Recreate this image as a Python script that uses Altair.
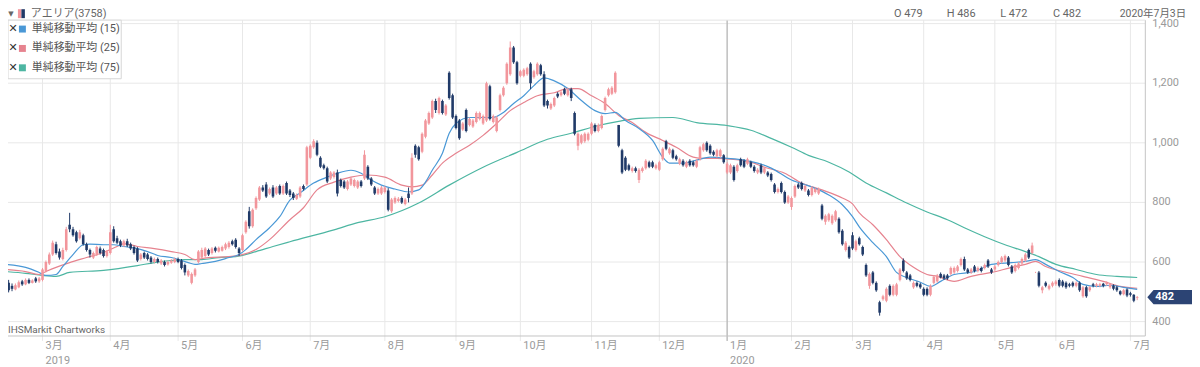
import altair as alt
import pandas as pd

# ---------------- data (daily candles, trading-day index 0..334) ----------------
opens = [
    545,530,520,508,515,535,525,540,530,545,
    535,540,570,595,625,660,635,610,640,725,
    710,700,680,690,660,640,615,625,645,640,
    620,630,710,680,670,655,670,660,650,645,
    610,630,625,615,600,610,595,600,592,598,
    600,610,605,590,555,530,555,600,615,620,
    640,630,648,635,638,645,650,670,675,645,
    640,700,770,720,780,810,850,860,830,850,
    830,855,830,865,840,830,812,820,855,860,
    950,985,1000,950,925,915,880,885,900,875,
    870,845,860,855,850,870,880,920,880,850,
    830,830,835,840,770,800,805,815,795,830,
    830,990,985,970,1020,1065,1085,1140,1100,1140,
    1095,1235,1160,1090,1075,1045,1110,1060,1055,1070,
    1080,1065,1075,1190,1070,1040,1110,1160,1200,1230,
    1320,1270,1225,1225,1230,1265,1220,1230,1260,1230,
    1140,1115,1125,1165,1160,1180,1160,1180,1100,990,
    1000,1005,1010,1030,1060,1040,1050,1110,1160,1165,
    1170,1060,975,950,925,905,915,875,905,915,
    935,935,915,910,945,1005,965,975,955,930,
    940,920,940,935,920,945,975,1000,990,970,
    955,955,958,900,900,920,905,945,940,930,
    935,920,900,925,900,900,895,860,835,865,
    835,800,785,820,860,865,840,840,825,835,
    830,790,735,740,730,740,745,705,640,650,
    690,640,680,650,590,520,565,530,465,475,
    470,520,490,490,540,605,565,555,515,530,
    525,510,510,490,530,535,560,555,555,560,
    565,570,590,610,575,565,585,570,580,580,
    605,575,575,590,600,605,615,585,570,580,
    595,605,640,630,565,565,505,530,510,520,
    525,540,535,530,525,530,520,530,485,515,
    505,525,520,520,527,525,515,520,515,502,
    492,508,495,490,479,
]
closes = [
    520,505,510,522,532,525,540,530,538,535,
    545,575,600,625,665,630,615,640,710,710,
    690,670,700,660,640,625,630,650,630,620,
    635,700,670,665,655,670,655,645,630,605,
    625,615,610,600,610,600,605,590,600,605,
    610,600,580,565,570,560,575,635,640,645,
    625,645,638,648,650,660,665,660,650,630,
    690,735,720,775,815,850,840,820,845,820,
    850,830,855,830,825,815,825,850,845,985,
    990,1005,960,920,915,870,900,900,830,855,
    850,870,880,875,870,855,960,880,860,830,
    845,850,850,775,810,815,812,800,810,815,
    950,960,945,1030,1075,1100,1140,1110,1150,1100,
    1125,1150,1085,1050,1015,1065,1040,1080,1075,1100,
    1100,1090,1200,1080,1090,1085,1160,1185,1265,1320,
    1270,1200,1240,1245,1250,1200,1240,1265,1230,1125,
    1125,1130,1150,1155,1170,1165,1180,1150,1030,1030,
    1025,1030,1030,1065,1040,1060,1090,1150,1180,1185,
    1235,990,900,910,910,915,905,910,915,940,
    920,920,925,935,980,980,980,950,945,945,
    925,935,925,925,940,985,995,975,965,960,
    975,975,935,930,925,875,925,925,920,945,
    920,905,910,900,915,890,875,835,845,835,
    800,820,815,855,850,845,855,825,850,845,
    845,745,755,760,755,770,700,660,665,615,
    645,670,660,625,555,560,530,505,430,485,
    510,490,520,525,575,570,545,540,530,520,
    515,490,490,520,550,555,548,545,545,580,
    580,585,610,575,565,575,570,580,570,590,
    585,565,585,600,615,620,590,565,590,595,
    610,625,615,655,565,520,515,520,520,530,
    535,520,520,515,520,520,530,505,515,485,
    515,520,525,525,520,530,525,510,505,492,
    505,488,490,470,482,
]
highs = [
    555,540,528,528,538,540,545,545,542,550,
    550,580,605,632,672,668,645,648,718,765,
    718,705,708,695,665,645,635,655,652,645,
    640,725,720,688,675,675,678,665,655,650,
    630,635,630,620,615,615,610,605,605,610,
    615,615,610,595,575,565,580,640,648,650,
    645,650,652,652,655,665,670,675,680,650,
    695,740,785,780,820,855,858,868,850,858,
    855,860,860,870,845,835,830,855,860,990,
    995,1012,1008,955,930,920,905,905,910,880,
    875,875,885,880,875,875,975,925,885,855,
    850,855,855,848,815,820,818,820,815,850,
    965,995,990,1035,1080,1105,1145,1148,1155,1145,
    1130,1240,1165,1095,1080,1070,1115,1085,1080,1105,
    1105,1095,1205,1195,1095,1090,1165,1190,1270,1340,
    1325,1275,1245,1250,1255,1270,1245,1270,1265,1240,
    1145,1135,1155,1170,1175,1185,1185,1185,1105,1035,
    1030,1035,1035,1070,1065,1065,1095,1155,1185,1190,
    1240,1060,980,955,930,920,920,915,920,945,
    940,940,930,940,985,1010,985,980,960,950,
    945,940,945,940,945,990,1000,1005,995,975,
    980,980,962,935,930,925,930,950,945,950,
    940,925,915,930,920,905,900,865,850,870,
    840,825,820,860,865,870,860,845,855,850,
    850,795,760,765,760,775,750,710,670,655,
    700,675,685,655,595,565,570,535,470,490,
    515,525,525,530,580,612,570,560,535,535,
    530,515,515,525,555,560,565,560,560,585,
    585,590,615,618,580,580,590,585,585,595,
    610,580,590,605,620,625,620,590,595,600,
    615,630,645,665,567,570,520,535,525,535,
    540,545,540,535,530,535,535,535,520,520,
    520,530,530,530,530,535,530,525,520,505,
    510,512,500,492,486,
]
lows = [
    512,498,502,505,512,520,522,526,528,530,
    530,535,565,590,620,625,608,605,635,700,
    685,665,675,655,635,615,610,620,625,615,
    615,625,665,660,650,650,650,640,625,600,
    605,610,605,595,595,595,590,585,588,594,
    596,596,575,555,550,525,550,595,610,615,
    620,625,632,632,635,640,645,655,645,620,
    635,695,712,715,775,805,835,815,825,815,
    825,825,825,825,818,808,808,815,840,855,
    945,980,955,915,910,865,875,880,820,850,
    845,840,855,850,845,850,875,875,855,825,
    825,825,830,770,765,795,800,795,790,800,
    825,950,940,965,1015,1060,1080,1100,1095,1095,
    1090,1145,1080,1045,1010,1040,1035,1055,1050,1065,
    1075,1060,1070,1075,1065,1035,1105,1155,1195,1225,
    1265,1195,1220,1220,1225,1180,1215,1225,1225,1120,
    1115,1110,1120,1150,1155,1160,1155,1140,1025,975,
    995,1000,1005,1025,1035,1035,1045,1105,1155,1160,
    1165,985,895,905,905,900,900,865,900,910,
    915,915,910,905,940,975,960,945,940,925,
    920,915,920,920,915,940,970,970,960,955,
    950,950,930,895,895,870,900,920,915,925,
    915,900,895,895,895,885,870,830,830,830,
    795,795,775,815,845,840,835,820,820,830,
    825,740,725,735,725,735,695,655,635,610,
    640,635,655,620,550,510,525,500,420,470,
    465,485,485,485,535,565,540,535,510,515,
    510,485,485,485,525,530,545,540,540,555,
    560,565,585,570,560,560,565,565,565,575,
    580,560,570,585,595,600,585,560,565,575,
    590,600,610,625,563,515,495,515,505,515,
    520,515,515,510,515,515,515,500,480,480,
    500,515,515,515,515,520,510,505,500,488,
    488,482,484,465,472,
]

# simple moving averages (trading-day index, price)
ma15_day = [0,6,10,12,15,17,20,23,25,29,32,35,39,42,45,49,52,54,56,58,
            62,66,69,71,74,78,81,84,87,91,95,98,102,105,108,111,115,119,122,124,
            126,129,131,133,137,141,144,147,150,153,156,159,162,166,170,174,177,180,183,187,
            191,194,196,200,204,208,213,218,222,226,232,238,243,247,250,252,256,260,263,266,
            270,273,276,280,286,291,297,301,304,307,311,315,318,322,326,330,334]
ma15_val = [592,582,565,555,558,585,625,658,660,658,658,652,645,635,622,615,605,598,592,595,
            602,615,625,642,675,715,752,808,832,865,885,898,908,898,875,858,845,835,842,868,
            908,965,1032,1065,1085,1085,1085,1102,1132,1158,1192,1218,1208,1182,1142,1108,1098,1102,1075,1048,
            1008,952,932,932,942,952,948,942,932,915,875,852,825,792,752,718,665,618,565,548,
            532,518,535,558,568,592,598,602,608,592,568,548,525,518,522,515,508]
ma25_day = [0,6,10,12,15,19,24,29,33,35,39,44,49,53,56,60,66,70,74,78,
            84,88,92,97,102,107,112,117,120,123,126,129,133,137,141,145,149,153,157,162,
            166,169,173,177,181,185,189,194,198,203,206,210,214,220,224,230,235,241,247,250,
            252,256,260,264,268,272,275,280,285,291,297,301,304,307,312,318,324,329,334]
ma25_val = [575,568,558,568,582,598,615,632,652,662,652,645,635,625,608,615,618,625,642,675,
            742,782,842,868,885,892,885,858,852,858,892,932,965,992,1025,1065,1108,1135,1158,1168,
            1182,1182,1158,1132,1092,1068,1035,1008,985,952,948,948,945,935,918,898,865,842,815,795,
            765,725,675,618,582,558,552,535,552,565,582,592,602,585,568,552,535,518,512]
ma75_day = [0,6,11,15,19,29,39,44,49,53,58,63,68,74,79,84,97,104,112,122,
            131,141,151,160,167,175,181,187,197,204,213,220,226,232,237,243,249,254,260,266,
            272,278,283,289,295,301,305,310,316,322,328,334]
ma75_val = [568,562,555,552,565,572,588,598,605,608,608,615,618,635,652,668,708,732,752,798,
            858,918,968,1012,1032,1058,1072,1082,1085,1068,1058,1042,1015,985,958,935,902,865,832,798,
            768,742,715,685,658,635,618,592,575,558,552,548]

month_start_idx = [11,31,51,70,90,112,133,152,173,193,213,232,250,271,292,310,332]
month_labels = ["3月","4月","5月","6月","7月","8月","9月","10月","11月","12月",
                "1月","2月","3月","4月","5月","6月","7月"]
year_idx = [11, 213]
year_labels = ["2019", "2020"]
y_ticks = [400, 600, 800, 1000, 1200, 1400]
y_tick_labels = ["400", "600", "800", "1,000", "1,200", "1,400"]
ma_names = ["単純移動平均 (15)", "単純移動平均 (25)", "単純移動平均 (75)"]
title_text = "アエリア(3758)"
ohlc_labels = ["O 479", "H 486", "L 472", "C 482"]
quote_date = "2020年7月3日"
last_close = [482]
credit = "IHSMarkit Chartworks"

# ---------------- style ----------------
W, H = 1145, 318
FONT = "Roboto, 'Noto Sans CJK JP', sans-serif"
RED = "#f2969c"
NAVY = "#203a68"
BLUE = "#4a98d6"
PINK = "#e6838f"
TEAL = "#4db6a2"
GRID = "#e8e8e8"
xs = alt.Scale(domain=[2.28, 334.93], nice=False, zero=False)
ys = alt.Scale(domain=[351.7, 1411.7], nice=False, zero=False)

df = pd.DataFrame({"day": list(range(len(opens))), "open": opens, "high": highs,
                   "low": lows, "close": closes})
one = pd.DataFrame({"a": [0]})


def X(field):
    return alt.X(field, scale=xs, axis=None)


def Y(field):
    return alt.Y(field, scale=ys, axis=None)


def txt(s, x, y, size=11, color="#555", align="left", weight="normal", font=FONT):
    return alt.Chart(pd.DataFrame({"t": [s]})).mark_text(
        align=align, baseline="middle", fontSize=size, color=color, font=font,
        fontWeight=weight).encode(x=alt.value(x), y=alt.value(y), text="t:N")


def box(x1, x2, y1, y2, fill, stroke=None):
    kw = dict(fill=fill)
    if stroke:
        kw.update(stroke=stroke, strokeWidth=1)
    return alt.Chart(one).mark_rect(**kw).encode(
        x=alt.value(x1), x2=alt.value(x2), y=alt.value(y1), y2=alt.value(y2))


layers = []

# horizontal grid
hg = pd.DataFrame({"v": y_ticks, "lab": y_tick_labels})
layers.append(alt.Chart(hg).mark_rule(color=GRID, strokeWidth=1).encode(
    y=Y("v:Q"), x=alt.value(0), x2=alt.value(W)))
# vertical grid + ticks
mg = pd.DataFrame({"idx": month_start_idx, "label": month_labels})
layers.append(alt.Chart(mg).mark_rule(color=GRID, strokeWidth=1, clip=False).encode(
    x=X("idx:Q"), y=alt.value(0), y2=alt.value(H + 5)))
# year boundary line
yg = pd.DataFrame({"idx": year_idx[1:]})
layers.append(alt.Chart(yg).mark_rule(color="#a8a8a8", strokeWidth=1).encode(
    x=X("idx:Q"), y=alt.value(0), y2=alt.value(H + 5)))
# borders
layers.append(alt.Chart(one).mark_rule(color="#c4c4c4").encode(
    x=alt.value(0), x2=alt.value(W), y=alt.value(H)))
layers.append(alt.Chart(one).mark_rule(color="#c4c4c4").encode(
    x=alt.value(W), y=alt.value(0), y2=alt.value(H)))
layers.append(alt.Chart(one).mark_rule(color="#e4e4e4").encode(
    x=alt.value(0), x2=alt.value(W), y=alt.value(0)))

# moving averages
for days, vals, col in [(ma75_day, ma75_val, TEAL), (ma25_day, ma25_val, PINK),
                        (ma15_day, ma15_val, BLUE)]:
    d = pd.DataFrame({"day": days, "v": vals})
    layers.append(alt.Chart(d).mark_line(color=col, strokeWidth=1.2, clip=True,
                                         interpolate="monotone").encode(
        x=X("day:Q"), y=Y("v:Q")))

# candles
cond = alt.condition("datum.close >= datum.open", alt.value(RED), alt.value(NAVY))
layers.append(alt.Chart(df).mark_rule(strokeWidth=1, clip=True).encode(
    x=X("day:Q"), y=Y("low:Q"), y2="high:Q", color=cond))
layers.append(alt.Chart(df).mark_bar(size=2.6, clip=True).encode(
    x=X("day:Q"), y=Y("open:Q"), y2="close:Q", color=cond))

# axis labels
layers.append(alt.Chart(mg).mark_text(align="left", baseline="middle", dx=3, fontSize=11,
                                      color="#9a9a9a", font=FONT).encode(
    x=X("idx:Q"), y=alt.value(H + 10), text="label:N"))
yl = pd.DataFrame({"idx": year_idx, "label": year_labels})
layers.append(alt.Chart(yl).mark_text(align="left", baseline="middle", dx=3, fontSize=11,
                                      color="#9a9a9a", font=FONT).encode(
    x=X("idx:Q"), y=alt.value(H + 25), text="label:N"))
layers.append(alt.Chart(hg).mark_text(align="left", baseline="middle", fontSize=11,
                                      color="#9a9a9a", font=FONT).encode(
    x=alt.value(W + 7), y=Y("v:Q"), text="lab:N"))

# price badge
badge = "M -1 0 L -0.72 -0.32 L 1 -0.32 L 1 0.32 L -0.72 0.32 Z"
lc = pd.DataFrame({"v": last_close, "t": [str(v) for v in last_close]})
layers.append(alt.Chart(lc).mark_point(shape=badge, size=2025, filled=True, color="#2c4474",
                                       opacity=1, strokeWidth=0).encode(
    x=alt.value(W + 24.5), y=Y("v:Q")))
layers.append(alt.Chart(lc).mark_text(align="left", baseline="middle", fontSize=11,
                                      color="white", font=FONT, fontWeight="bold").encode(
    x=alt.value(W + 10), y=Y("v:Q"), text="t:N"))

# header
HY = -6.5
layers.append(txt("▼", 3, HY, size=7, color="#666", align="center", font="DejaVu Sans"))
layers.append(box(10, 13.5, HY - 4.5, HY + 4.5, RED))
layers.append(box(13.5, 17, HY - 4.5, HY + 4.5, NAVY))
layers.append(txt(title_text, 23, HY, size=11, color="#666"))
for s, x in zip(ohlc_labels, [892, 945, 999, 1052]):
    layers.append(txt(s, x, HY, size=11, color="#666"))
layers.append(txt(quote_date, 1186, HY, size=10.5, color="#666", align="right"))

# legend box
layers.append(box(0, 114, 0, 59, "white", "#d6d6d6"))
for k, (name, col) in enumerate(zip(ma_names, [BLUE, PINK, TEAL])):
    yy = 9 + k * 19.5
    layers.append(txt("✕", 5, yy, size=11, color="#333", align="center", font="DejaVu Sans"))
    layers.append(box(11, 18, yy - 3.5, yy + 3.5, col))
    layers.append(txt(name, 24, yy, size=11, color="#555"))

# credit
layers.append(txt(credit, 0, H - 6, size=10, color="#666"))

chart = alt.layer(*layers).properties(
    width=W, height=H, autosize="none",
    padding={"left": 0, "top": 11, "right": 47, "bottom": 30},
    background="white",
).configure_view(stroke=None)

chart.save("out.html", embed_options={"renderer": "svg", "actions": False})
